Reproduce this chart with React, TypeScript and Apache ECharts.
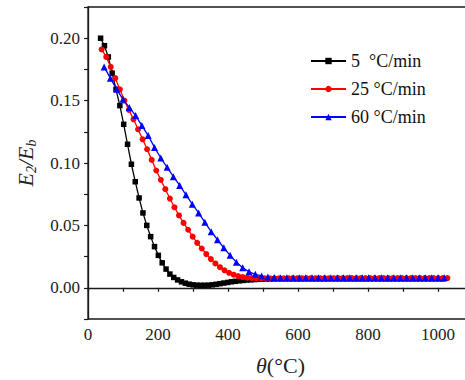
import { useEffect, useRef } from 'react';
import * as echarts from 'echarts';

const FONT = 'Liberation Serif';

const seriesNames = ['5 °C/min', '25 °C/min', '60 °C/min'];

const blackX = [36, 47, 58, 69, 80, 91, 102, 113, 124, 135, 146, 157, 168, 179, 190, 201, 212, 223, 234, 245,
  256, 267, 278, 289, 300, 311, 322, 333, 344, 355, 366, 377, 388, 399, 410, 421, 432, 443, 454, 465,
  476, 487, 498, 509, 520, 531, 542, 553, 564, 575, 586, 597, 608, 619, 630, 641, 652, 663, 674, 685,
  696, 707, 718, 729, 740, 751, 762, 773, 784, 795, 806, 817, 828, 839, 850, 861, 872, 883, 894, 905,
  916, 927, 938, 949, 960, 971, 982, 993, 1004, 1015];
const blackY = [0.200, 0.194, 0.185, 0.172, 0.159, 0.146, 0.131, 0.115, 0.099, 0.085, 0.072, 0.060, 0.050, 0.041, 0.033, 0.026, 0.020, 0.015, 0.011, 0.0083,
  0.0063, 0.0048, 0.0037, 0.0029, 0.0024, 0.0021, 0.0020, 0.0020, 0.0021, 0.0024, 0.0028, 0.0033, 0.0038, 0.0043, 0.0048, 0.0052, 0.0056, 0.0059, 0.0062, 0.0064,
  0.0066, 0.0068, 0.0069, 0.0070, 0.0071, 0.0071, 0.0072, 0.0072, 0.0072, 0.0072, 0.0072, 0.0072, 0.0072, 0.0072, 0.0072, 0.0072, 0.0072, 0.0072, 0.0072, 0.0072,
  0.0072, 0.0072, 0.0072, 0.0072, 0.0072, 0.0072, 0.0072, 0.0072, 0.0072, 0.0072, 0.0072, 0.0072, 0.0072, 0.0072, 0.0072, 0.0072, 0.0072, 0.0072, 0.0072, 0.0072,
  0.0072, 0.0072, 0.0072, 0.0072, 0.0072, 0.0072, 0.0072, 0.0072, 0.0072, 0.0072];

const redX = [39, 52, 65, 78, 91, 104, 117, 130, 143, 156, 169, 182, 195, 208, 221, 234, 247, 260, 273, 286,
  299, 312, 325, 338, 351, 364, 377, 390, 403, 416, 429, 442, 455, 468, 481, 494, 507, 520, 533, 546,
  559, 572, 585, 598, 611, 624, 637, 650, 663, 676, 689, 702, 715, 728, 741, 754, 767, 780, 793, 806,
  819, 832, 845, 858, 871, 884, 897, 910, 923, 936, 949, 962, 975, 988, 1001, 1014, 1027];
const redY = [0.191, 0.185, 0.177, 0.168, 0.159, 0.150, 0.1425, 0.135, 0.127, 0.119, 0.111, 0.1025, 0.094, 0.0865, 0.079, 0.0715, 0.0645, 0.058, 0.052, 0.0465,
  0.041, 0.036, 0.0315, 0.027, 0.023, 0.0195, 0.0165, 0.014, 0.012, 0.0105, 0.0094, 0.0086, 0.0081, 0.0078, 0.0076, 0.0075, 0.0075, 0.0076, 0.0076, 0.0076,
  0.0076, 0.0077, 0.0077, 0.0077, 0.0077, 0.0077, 0.0077, 0.0077, 0.0077, 0.0077, 0.0077, 0.0077, 0.0078, 0.0078, 0.0078, 0.0078, 0.0078, 0.0078, 0.0078, 0.0078,
  0.0078, 0.0078, 0.0078, 0.0078, 0.0078, 0.0078, 0.0078, 0.0078, 0.0078, 0.0078, 0.0078, 0.0078, 0.0078, 0.0078, 0.0078, 0.0078, 0.0078];

const blueX = [46, 64, 82, 100, 118, 136, 154, 172, 190, 208, 226, 244, 262, 280, 298, 316, 334, 352, 370, 388,
  406, 424, 442, 460, 478, 496, 514, 532, 550, 568, 586, 604, 622, 640, 658, 676, 694, 712, 730, 748,
  766, 784, 802, 820, 838, 856, 874, 892, 910, 928, 946, 964, 982, 1000, 1018];
const blueY = [0.177, 0.168, 0.159, 0.151, 0.1445, 0.138, 0.130, 0.122, 0.1125, 0.104, 0.0965, 0.089, 0.082, 0.0745, 0.067, 0.060, 0.0525, 0.045, 0.0385, 0.032,
  0.026, 0.0205, 0.016, 0.0128, 0.0108, 0.0095, 0.0087, 0.0083, 0.0081, 0.0080, 0.0080, 0.0080, 0.0080, 0.0080, 0.0080, 0.0080, 0.0080, 0.0080, 0.0080, 0.0080,
  0.0080, 0.0080, 0.0080, 0.0080, 0.0080, 0.0080, 0.0080, 0.0080, 0.0080, 0.0080, 0.0080, 0.0080, 0.0080, 0.0080, 0.0080];

const xMin = 0;
const xMax = 1100;
const xStep = 100;
const yMin = -0.025;
const yMax = 0.225;
const yStep = 0.025;

const zip = (xs: number[], ys: number[]) => xs.map((x, i) => [x, ys[i]]);

export default function App() {
  const ref = useRef<HTMLDivElement>(null);
  useEffect(() => {
    if (!ref.current) return;
    const chart = echarts.init(ref.current, null, { renderer: 'svg' });
    const axisColor = '#1a1a1a';
    chart.setOption({
      animation: false,
      backgroundColor: '#ffffff',
      grid: {
        left: 88,
        top: 7,
        width: 385,
        bottom: 61,
        show: true,
        borderColor: axisColor,
        borderWidth: 1.3,
        backgroundColor: 'transparent',
        outerBoundsMode: 'none',
        containLabel: false,
      },
      legend: {
        orient: 'vertical',
        left: 305,
        top: 47,
        itemWidth: 35,
        itemHeight: 8,
        itemGap: 10,
        data: seriesNames,
        formatter: (name: string) => (name.startsWith('5 ') ? name.replace('5 ', '5  ') : name),
        textStyle: { fontFamily: FONT, fontSize: 18, color: '#111' },
      },
      xAxis: {
        type: 'value',
        min: xMin,
        max: xMax,
        interval: xStep,
        axisLine: { show: true, lineStyle: { color: axisColor, width: 1.3 } },
        axisTick: { show: true, length: 4, lineStyle: { color: axisColor, width: 1.2 } },
        splitLine: { show: false },
        axisLabel: {
          fontFamily: FONT,
          fontSize: 17,
          color: '#222',
          margin: 7,
          formatter: (v: number) => (Math.round(v) % 200 === 0 && v <= 1000 ? String(Math.round(v)) : ''),
        },
        name: '{t|θ}{n|(°C)}',
        nameLocation: 'middle',
        nameGap: 35,
        nameTextStyle: {
          rich: {
            t: { fontFamily: FONT, fontSize: 22, fontStyle: 'italic', color: '#222' },
            n: { fontFamily: FONT, fontSize: 22, color: '#222' },
          },
        },
      },
      yAxis: {
        type: 'value',
        min: yMin,
        max: yMax,
        interval: yStep,
        axisLine: { show: true, lineStyle: { color: axisColor, width: 1.3 } },
        axisTick: { show: true, length: 4, lineStyle: { color: axisColor, width: 1.2 } },
        splitLine: { show: false },
        axisLabel: {
          fontFamily: FONT,
          fontSize: 17,
          color: '#222',
          margin: 8,
          formatter: (v: number) => {
            const r = Math.round(v * 1000);
            return r >= 0 && r % 50 === 0 ? v.toFixed(2) : '';
          },
        },
        name: '{e|E}{s|2}{e|/E}{s|b}',
        nameLocation: 'middle',
        nameRotate: 90,
        nameGap: 50,
        nameTextStyle: {
          rich: {
            e: { fontFamily: FONT, fontSize: 22, fontStyle: 'italic', color: '#222', verticalAlign: 'top' },
            s: { fontFamily: FONT, fontSize: 14, fontStyle: 'italic', color: '#222', verticalAlign: 'bottom', padding: [10, 0, 0, 0] },
          },
        },
      },
      series: [
        {
          name: seriesNames[0],
          type: 'line',
          data: zip(blackX, blackY),
          symbol: 'rect',
          symbolSize: 5.5,
          color: '#000000',
          lineStyle: { width: 1.3, color: '#000000' },
          itemStyle: { color: '#000000' },
        },
        {
          name: seriesNames[1],
          type: 'line',
          data: zip(redX, redY),
          symbol: 'circle',
          symbolSize: 6,
          color: '#ff0000',
          lineStyle: { width: 1.3, color: '#ff0000' },
          itemStyle: { color: '#ff0000' },
        },
        {
          name: seriesNames[2],
          type: 'line',
          data: zip(blueX, blueY),
          symbol: 'triangle',
          symbolSize: 7,
          color: '#0000ff',
          lineStyle: { width: 1.3, color: '#0000ff' },
          itemStyle: { color: '#0000ff' },
        },
      ],
    });
    return () => chart.dispose();
  }, []);
  return (
    <div
      ref={ref}
      style={{ position: 'fixed', left: 0, top: 0, width: 465, height: 380, background: '#fff' }}
    />
  );
}
